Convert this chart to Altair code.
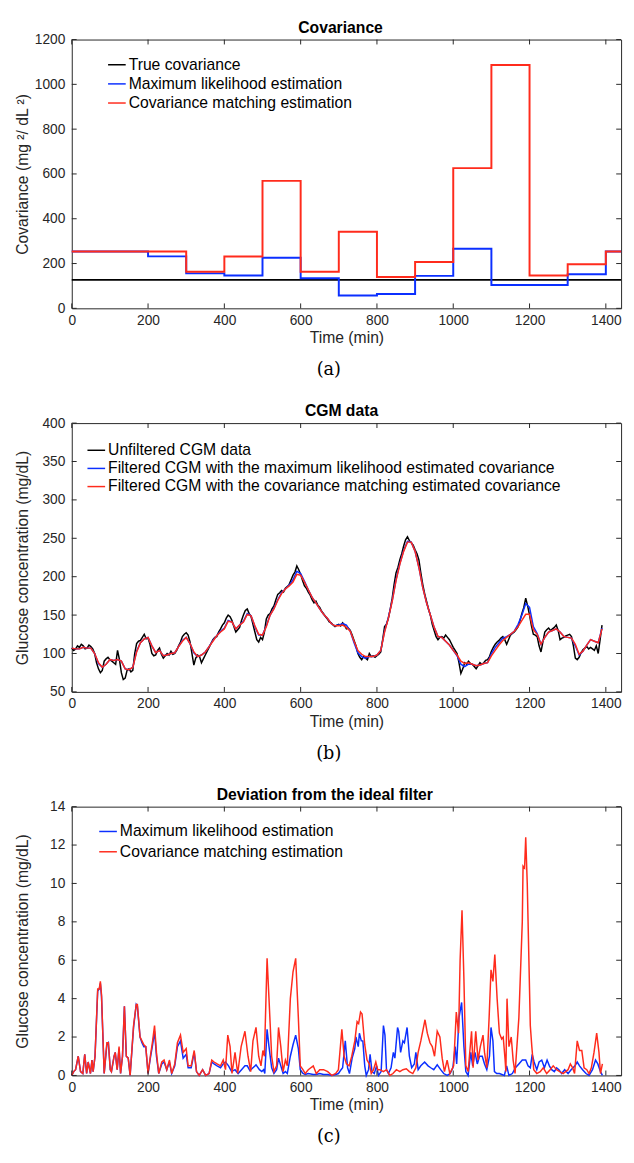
import altair as alt
import pandas as pd

FONT = "Liberation Sans"
SERIF = "DejaVu Serif"
AX = "#262626"
W, H = 560, 274
XTICKS = [0, 200, 400, 600, 800, 1000, 1200, 1400]

# ---------------- Panel (a): covariance steps ----------------
cov_time = [0, 100, 200, 300, 400, 500, 600, 700, 800, 900, 1000, 1100, 1200, 1300, 1400, 1440]
cov_true = [127, 127, 127, 127, 127, 127, 127, 127, 127, 127, 127, 127, 127, 127, 127, 127]
cov_ml = [254, 254, 232, 156, 147, 226, 134, 57, 64, 145, 266, 104, 104, 152, 254, 254]
cov_cm = [254, 254, 254, 163, 231, 569, 163, 342, 140, 207, 626, 1086, 147, 197, 254, 254]
cov_names = ["True covariance", "Maximum likelihood estimation", "Covariance matching estimation"]
cov_ticks = [0, 200, 400, 600, 800, 1000, 1200]

# ---------------- Panel (b): CGM data ----------------
raw_time = list(range(0, 1395, 5))
cgm_raw = [107, 104, 106, 110, 108, 112, 110, 106, 107, 111, 109, 106, 100, 88, 80, 75, 78, 90, 93, 95,
           92, 90, 88, 86, 104, 92, 75, 66, 68, 78, 80, 76, 78, 100, 113, 116, 117, 121, 125, 119,
           120, 112, 100, 97, 98, 104, 107, 99, 94, 97, 100, 98, 103, 99, 100, 104, 110, 115, 122, 125,
           127, 124, 115, 100, 85, 94, 98, 96, 88, 93, 98, 103, 108, 113, 118, 121, 122, 128, 132, 137,
           140, 146, 150, 148, 143, 135, 128, 131, 134, 143, 150, 156, 158, 152, 148, 138, 128, 118, 115, 121,
           118, 128, 145, 150, 152, 158, 162, 170, 177, 179, 182, 180, 185, 187, 190, 196, 202, 206, 214, 209,
           203, 195, 188, 185, 180, 176, 170, 166, 168, 163, 160, 155, 152, 148, 145, 141, 140, 137, 135, 137,
           138, 136, 140, 137, 132, 133, 130, 124, 117, 110, 100, 95, 92, 96, 94, 92, 100, 96, 97, 95,
           97, 99, 102, 118, 135, 138, 146, 158, 172, 190, 205, 212, 222, 230, 240, 248, 252, 247, 244, 241,
           235, 230, 222, 205, 190, 178, 168, 158, 150, 138, 130, 122, 118, 121, 122, 120, 124, 121, 118, 113,
           108, 104, 100, 88, 74, 80, 88, 86, 90, 87, 86, 83, 80, 84, 88, 86, 88, 91, 92, 96,
           103, 108, 112, 115, 117, 120, 122, 118, 112, 118, 124, 126, 128, 131, 135, 143, 152, 160, 172, 162,
           150, 136, 125, 124, 122, 110, 102, 115, 128, 131, 133, 130, 132, 134, 137, 130, 118, 120, 121, 123,
           124, 125, 122, 110, 94, 92, 95, 101, 105, 107, 109, 106, 108, 106, 104, 110, 100, 118, 137]
cgm_time = list(range(0, 1400, 10))
cgm_ml = [107, 106, 106, 108, 107, 107, 100, 87, 82, 86,
          92, 91, 92, 90, 80, 79, 82, 103, 114, 119,
          121, 110, 101, 104, 97, 98, 100, 101, 109, 117,
          121, 113, 101, 96, 98, 102, 109, 117, 123, 129,
          133, 143, 141, 132, 137, 142, 152, 149, 135, 124,
          124, 136, 150, 159, 170, 179, 184, 189, 196, 207,
          204, 194, 183, 173, 166, 158, 151, 146, 139, 136,
          137, 139, 137, 129, 114, 101, 96, 94, 96, 96,
          98, 104, 129, 147, 169, 196, 217, 234, 246, 245,
          233, 212, 186, 166, 150, 134, 122, 121, 116, 111,
          104, 97, 86, 83, 86, 86, 84, 85, 87, 88,
          100, 108, 114, 120, 122, 125, 129, 138, 150, 165,
          160, 135, 126, 112, 121, 128, 130, 132, 128, 122,
          121, 120, 110, 98, 103, 111, 118, 116, 114, 133]
cgm_cm = [107, 106, 106, 108, 107, 107, 100, 88, 82, 86,
          92, 91, 92, 90, 80, 79, 82, 102, 114, 119,
          121, 110, 101, 104, 97, 98, 100, 101, 109, 116,
          121, 113, 102, 96, 98, 102, 109, 116, 123, 128,
          132, 142, 141, 132, 137, 141, 151, 149, 136, 125,
          124, 135, 150, 158, 169, 178, 184, 188, 193, 203,
          202, 193, 183, 173, 166, 158, 151, 146, 139, 136,
          136, 137, 134, 129, 116, 104, 99, 96, 96, 96,
          98, 104, 128, 146, 168, 195, 216, 233, 245, 245,
          233, 212, 186, 166, 150, 134, 122, 121, 116, 111,
          104, 98, 90, 87, 88, 86, 84, 85, 87, 88,
          97, 104, 111, 117, 121, 125, 129, 135, 143, 151,
          151, 131, 125, 112, 121, 128, 130, 132, 128, 122,
          121, 120, 112, 99, 103, 111, 118, 116, 114, 132]
cgm_names = ["Unfiltered CGM data",
             "Filtered CGM with the maximum likelihood estimated covariance",
             "Filtered CGM with the covariance matching estimated covariance"]
cgm_ticks = [50, 100, 150, 200, 250, 300, 350, 400]

# ---------------- Panel (c): deviation from the ideal filter ----------------
dev_cm_time = [0, 5, 10, 17, 23, 29, 34, 39, 43, 49, 53, 56, 61, 68, 72, 75, 78, 85, 92, 96,
               101, 104, 111, 114, 119, 124, 128, 133, 138, 143, 148, 153, 162, 169, 172, 179, 184, 189, 194, 200,
               206, 212, 217, 222, 228, 236, 242, 249, 256, 262, 270, 277, 285, 292, 300, 305, 313, 321, 327, 334,
               343, 351, 360, 367, 373, 381, 390, 397, 403, 409, 415, 420, 428, 435, 444, 454, 462, 469, 475, 483,
               490, 496, 501, 505, 512, 517, 524, 530, 537, 542, 548, 554, 560, 565, 573, 580, 587, 594, 599, 606,
               612, 620, 633, 641, 650, 660, 671, 682, 692, 699, 708, 714, 720, 727, 734, 742, 748, 752, 757, 761,
               768, 774, 780, 785, 791, 797, 802, 808, 817, 825, 834, 842, 851, 860, 868, 877, 885, 894, 902, 908,
               915, 922, 926, 932, 939, 945, 951, 958, 965, 971, 977, 984, 991, 1001, 1008, 1014, 1018, 1023, 1028, 1033,
               1039, 1048, 1052, 1059, 1065, 1071, 1078, 1082, 1088, 1094, 1099, 1104, 1109, 1115, 1121, 1127, 1131, 1136, 1138, 1141,
               1146, 1152, 1157, 1162, 1172, 1181, 1183, 1187, 1190, 1194, 1202, 1206, 1211, 1219, 1228, 1236, 1245, 1254, 1262, 1271,
               1279, 1288, 1301, 1307, 1313, 1318, 1325, 1331, 1337, 1343, 1350, 1356, 1362, 1369, 1376, 1382, 1386, 1391]
dev_cm = [0.0, 0.2, 0.3, 1.0, 0.2, 0.1, 1.1, 0.1, 0.7, 0.1, 0.8, 0.2, 1.0, 4.5, 4.5, 4.9, 4.2, 0.1, 1.7, 1.7,
          0.3, 0.2, 1.0, 1.2, 0.3, 1.5, 0.1, 1.0, 3.6, 1.0, 0.9, 0.0, 2.6, 3.7, 3.7, 2.0, 1.8, 1.6, 1.5, 0.1,
          1.0, 1.8, 2.6, 1.2, 0.1, 0.7, 0.8, 0.3, 0.8, 0.1, 0.6, 1.7, 2.1, 1.2, 1.4, 0.5, 0.5, 1.3, 0.2, 0.0,
          0.3, 0.0, 0.1, 0.8, 0.7, 0.6, 0.5, 0.8, 0.3, 2.1, 1.5, 0.1, 1.2, 0.1, 1.5, 2.3, 1.0, 0.2, 1.8, 2.5,
          1.0, 0.5, 1.3, 1.0, 6.1, 4.0, 1.0, 0.2, 0.5, 2.5, 1.5, 0.2, 0.8, 0.5, 4.0, 5.4, 6.1, 3.0, 0.5, 0.3,
          0.1, 0.3, 0.5, 0.1, 0.3, 0.3, 0.2, 0.0, 0.1, 0.3, 2.4, 1.0, 0.6, 0.5, 1.0, 1.8, 2.8, 2.7, 3.3, 3.2,
          1.6, 0.8, 0.6, 0.1, 0.3, 0.7, 0.3, 0.3, 0.2, 0.3, 0.0, 0.1, 0.3, 0.2, 0.3, 0.35, 0.2, 0.1, 0.4, 1.2,
          1.8, 2.5, 2.9, 2.2, 1.7, 1.5, 1.0, 2.3, 2.0, 0.9, 0.2, 0.8, 0.1, 0.5, 3.3, 2.2, 6.0, 8.6, 5.0, 0.5,
          0.2, 2.3, 0.4, 2.3, 0.8, 1.5, 2.1, 1.2, 0.4, 3.0, 5.5, 4.9, 6.3, 4.0, 2.2, 1.9, 2.0, 0.8, 0.2, 4.0,
          1.5, 2.0, 0.8, 0.1, 3.0, 8.0, 10.9, 10.8, 12.4, 10.0, 2.6, 1.5, 0.3, 0.1, 0.2, 0.4, 0.1, 0.3, 0.5, 0.3,
          0.2, 0.1, 0.3, 0.6, 0.4, 0.1, 1.8, 1.3, 1.3, 0.4, 0.3, 0.1, 0.4, 1.2, 2.2, 1.2, 0.1, 0.6]
dev_ml_time = [0, 5, 10, 17, 23, 29, 34, 39, 43, 49, 53, 56, 61, 68, 72, 75, 78, 85, 92, 96,
               101, 104, 111, 114, 119, 124, 128, 133, 138, 143, 148, 153, 162, 169, 172, 179, 184, 189, 194, 200,
               206, 212, 217, 222, 228, 236, 242, 249, 256, 262, 270, 277, 285, 292, 300, 305, 313, 321, 327, 334,
               343, 351, 360, 367, 373, 381, 390, 397, 403, 411, 419, 428, 436, 445, 454, 460, 467, 475, 483, 492,
               498, 503, 506, 512, 517, 524, 530, 537, 542, 548, 554, 560, 565, 573, 580, 587, 594, 599, 606, 612,
               620, 633, 641, 650, 660, 671, 682, 692, 699, 706, 710, 717, 723, 728, 735, 742, 745, 751, 754, 759,
               763, 768, 772, 778, 782, 787, 793, 799, 804, 811, 817, 821, 825, 830, 837, 843, 847, 854, 857, 862,
               868, 872, 879, 885, 891, 898, 902, 908, 915, 925, 934, 941, 949, 958, 967, 975, 984, 992, 999, 1005,
               1009, 1015, 1022, 1028, 1033, 1039, 1046, 1051, 1057, 1063, 1069, 1076, 1082, 1088, 1095, 1099, 1104, 1108, 1114, 1121,
               1134, 1140, 1146, 1155, 1163, 1172, 1181, 1190, 1196, 1202, 1207, 1212, 1219, 1225, 1232, 1239, 1246, 1252, 1258, 1265,
               1271, 1277, 1284, 1292, 1301, 1309, 1319, 1325, 1331, 1339, 1348, 1356, 1365, 1373, 1379, 1386, 1391]
dev_ml = [0.0, 0.2, 0.3, 1.0, 0.2, 0.1, 1.1, 0.1, 0.7, 0.1, 0.8, 0.2, 1.0, 4.4, 4.5, 4.8, 4.1, 0.1, 1.6, 1.7,
          0.3, 0.2, 1.0, 1.2, 0.3, 1.4, 0.1, 1.0, 3.6, 1.0, 0.9, 0.0, 2.5, 3.7, 3.6, 2.0, 1.7, 1.5, 1.5, 0.1,
          0.9, 1.6, 2.3, 1.0, 0.1, 0.6, 0.7, 0.3, 0.7, 0.1, 0.5, 1.5, 1.8, 0.9, 1.1, 0.4, 0.4, 1.2, 0.2, 0.0,
          0.3, 0.0, 0.1, 0.7, 0.6, 0.5, 0.4, 0.6, 0.7, 0.5, 0.2, 0.3, 0.1, 0.3, 0.5, 0.5, 0.25, 0.4, 0.55, 0.3,
          0.2, 0.3, 0.1, 2.4, 1.5, 0.4, 0.1, 0.3, 0.9, 0.5, 0.1, 0.2, 0.1, 1.0, 1.6, 2.1, 1.4, 0.3, 0.1, 0.05,
          0.1, 0.05, 0.05, 0.1, 0.05, 0.05, 0.0, 0.05, 0.1, 0.3, 0.4, 1.8, 0.4, 0.1, 0.9, 1.4, 2.0, 1.5, 2.2, 1.8,
          1.8, 0.5, 0.0, 0.3, 1.1, 0.2, 0.1, 0.5, 0.0, 0.2, 2.6, 2.1, 0.3, 0.1, 0.4, 1.2, 0.9, 2.5, 2.3, 1.2,
          1.8, 1.7, 2.5, 1.0, 0.4, 0.6, 1.2, 0.3, 0.5, 0.7, 0.5, 0.4, 0.3, 0.55, 0.3, 0.1, 0.0, 0.1, 0.4, 1.5,
          0.6, 3.0, 3.8, 1.5, 0.2, 0.0, 1.2, 0.5, 1.2, 0.6, 1.0, 1.0, 0.6, 0.3, 1.0, 2.5, 1.8, 0.2, 0.1, 0.1,
          0.0, 0.5, 0.0, 0.1, 0.4, 0.6, 0.8, 0.8, 0.5, 0.4, 1.1, 0.7, 0.3, 0.7, 0.8, 0.4, 0.8, 0.5, 0.3, 0.2,
          0.4, 0.3, 0.1, 0.3, 0.1, 0.3, 0.5, 0.7, 0.5, 0.3, 0.1, 0.0, 0.3, 0.8, 0.6, 0.2, 0.0]
dev_names = ["Maximum likelihood estimation", "Covariance matching estimation"]
dev_ticks = [0, 2, 4, 6, 8, 10, 12, 14]

BLACK, BLUE, RED = "#000000", "#0b2fff", "#ff2b1c"


def text_layer(txt, x, y, size, weight, font):
    return alt.Chart(pd.DataFrame({"txt": [txt]})).mark_text(
        font=font, fontSize=size, fontWeight=weight, color="black",
        align="center", baseline="middle"
    ).encode(text="txt:N", x=alt.value(x), y=alt.value(y))


def panel(series, names, colors, ydom, yticks, ytitle, title, title_x, caption,
          lx, ly, rowpad, sw, interp="linear"):
    x = alt.X("t:Q", scale=alt.Scale(domain=[0, 1440], nice=False, zero=False),
              axis=alt.Axis(values=XTICKS, format="d", title="Time (min)", labelFlush=False,
                            labelOverlap=False, labelPadding=5, titlePadding=3))
    y = alt.Y("v:Q", scale=alt.Scale(domain=ydom, nice=False, zero=False),
              axis=alt.Axis(values=yticks, format="d", title=ytitle, labelOverlap=False,
                            labelPadding=7, titleX=-50, titleY=H / 2,
                            titleBaseline="middle", titleAlign="center", titleAngle=-90))
    color = alt.Color("s:N", scale=alt.Scale(domain=names, range=colors), sort=names,
                      legend=alt.Legend(orient="none", legendX=lx, legendY=ly, title=None,
                                        rowPadding=rowpad, labelLimit=0))
    layers = []
    for name, (tt, vv) in zip(names, series):
        df = pd.DataFrame({"t": tt, "v": vv, "s": name})
        layers.append(alt.Chart(df).mark_line(strokeWidth=sw, interpolate=interp)
                      .encode(x=x, y=y, color=color))
    # inward-pointing ticks on all four sides (MATLAB box style)
    xt = pd.DataFrame({"t": XTICKS})
    yt = pd.DataFrame({"v": yticks})
    r = dict(color=AX, strokeWidth=1)
    layers += [
        alt.Chart(xt).mark_rule(**r).encode(x=x, y=alt.value(H), y2=alt.value(H - 5)),
        alt.Chart(xt).mark_rule(**r).encode(x=x, y=alt.value(0), y2=alt.value(5)),
        alt.Chart(yt).mark_rule(**r).encode(y=y, x=alt.value(0), x2=alt.value(5)),
        alt.Chart(yt).mark_rule(**r).encode(y=y, x=alt.value(W), x2=alt.value(W - 5)),
        text_layer(title, title_x, -12, 16, "bold", FONT),
        text_layer(caption, 262, H + 63, 18, "normal", SERIF),
    ]
    return alt.layer(*layers).properties(width=W, height=H)


pa = panel([(cov_time, cov_true), (cov_time, cov_ml), (cov_time, cov_cm)], cov_names,
           [BLACK, BLUE, RED], [0, 1200], cov_ticks, "Covariance (mg ²/ dL ²)",
           "Covariance", 274, "(a)", 36, 15.7, 1.5, 2, interp="step-after")
pb = panel([(raw_time, cgm_raw), (cgm_time, cgm_ml), (cgm_time, cgm_cm)], cgm_names,
           [BLACK, BLUE, RED], [50, 400], cgm_ticks, "Glucose concentration (mg/dL)",
           "CGM data", 275, "(b)", 15, 17.7, 0.5, 1.5)
pc = panel([(dev_ml_time, dev_ml), (dev_cm_time, dev_cm)], dev_names,
           [BLUE, RED], [0, 14], dev_ticks, "Glucose concentration (mg/dL)",
           "Deviation from the ideal filter", 258, "(c)", 27, 15.3, 2.7, 1.5)

chart = alt.vconcat(pa, pb, pc, spacing=117, bounds="flush").resolve_scale(
    color="independent"
).resolve_legend(color="independent").properties(
    padding={"left": 6, "top": 0, "right": 0, "bottom": 0}
).configure(font=FONT).configure_view(stroke=AX, strokeWidth=1).configure_axis(
    grid=False, domain=False, ticks=False, labelFont=FONT, labelFontSize=14, labelColor=AX,
    titleFont=FONT, titleFontSize=16, titleFontWeight="normal", titleColor=AX,
    labelOverlap=False
).configure_legend(
    labelFont=FONT, labelFontSize=16, labelColor="black", symbolType="stroke", symbolSize=324,
    symbolStrokeWidth=1.5, labelOffset=2, padding=0
)

chart.save("out.html", embed_options={"renderer": "svg", "actions": False})
